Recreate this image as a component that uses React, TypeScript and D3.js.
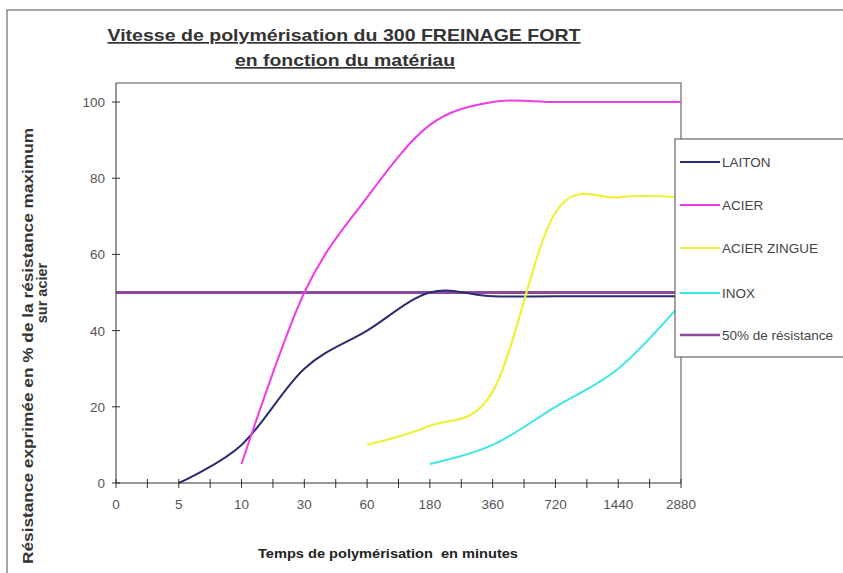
import { useMemo } from 'react';
import * as d3 from 'd3';

// catégories de l'axe X (minutes)
const categories = ['0', '5', '10', '30', '60', '180', '360', '720', '1440', '2880'];
const yTicks = [0, 20, 40, 60, 80, 100];

// valeurs (null = pas de point)
const laiton = [null, 0, 10, 30, 40, 50, 49, 49, 49, 49];
const acier = [null, null, 5, 50, 75, 94, 100, 100, 100, 100];
const acierZingue = [null, null, null, null, 10, 15, 24, 71, 75, 75];
const inox = [null, null, null, null, null, 5, 10, 20, 30, 47];
const seuil = [50, 50, 50, 50, 50, 50, 50, 50, 50, 50];

const seriesNames = ['LAITON', 'ACIER', 'ACIER ZINGUE', 'INOX', '50% de résistance'];
const seriesColors = ['#2b2b70', '#f03ce6', '#eef03a', '#3ee6e6', '#8c4a9c'];
const seriesWidths = [2, 2, 2.2, 2, 3];

const FONT = 'Arial, "Liberation Sans", sans-serif';

export default function App() {
  const W = 843;
  const H = 573;
  const plot = { left: 116, right: 681, top: 83, bottom: 483 };

  const x = useMemo(() => d3.scalePoint<string>().domain(categories).range([plot.left, plot.right]), []);
  const y = useMemo(() => d3.scaleLinear().domain([0, 105]).range([plot.bottom, plot.top]), []);

  const allSeries = [laiton, acier, acierZingue, inox, seuil];
  // le seuil de 50% est dessiné en premier, les courbes par-dessus
  const drawOrder = [4, 0, 1, 2, 3];

  const line = d3
    .line<number | null>()
    .defined((d) => d !== null)
    .x((_, i) => x(categories[i]) as number)
    .y((d) => y(d as number))
    .curve(d3.curveCatmullRom.alpha(0));

  const step = x.step();
  const minorTicks = categories.slice(0, -1).map((c) => (x(c) as number) + step / 2);

  const legendY = [162, 205, 248, 293, 335];

  return (
    <svg width={W} height={H} style={{ position: 'absolute', left: 0, top: 0, background: '#fff' }}>
      {/* cadre du graphique */}
      <rect x={7} y={10} width={W} height={H} fill="#fff" stroke="#888" strokeWidth={1.5} />

      {/* titre */}
      <g fontFamily={FONT} fontWeight="bold" fill="#333" textAnchor="middle" textDecoration="underline">
        <text x={344} y={41} fontSize={17} textLength={473} lengthAdjust="spacingAndGlyphs">
          Vitesse de polymérisation du 300 FREINAGE FORT
        </text>
        <text x={345} y={66} fontSize={17} textLength={220} lengthAdjust="spacingAndGlyphs">
          en fonction du matériau
        </text>
      </g>

      {/* zone de tracé */}
      <path
        d={`M${plot.left},${plot.top}H${plot.right}V${plot.bottom}`}
        fill="none"
        stroke="#888"
        strokeWidth={1.5}
      />

      {/* courbes */}
      {drawOrder.map((i) => (
        <path
          key={seriesNames[i]}
          d={line(allSeries[i]) || ''}
          fill="none"
          stroke={seriesColors[i]}
          strokeWidth={seriesWidths[i]}
          strokeLinejoin="round"
        />
      ))}

      {/* axe Y */}
      <g stroke="#333" strokeWidth={1}>
        <line x1={plot.left} x2={plot.left} y1={plot.top} y2={plot.bottom} />
        {yTicks.map((t) => (
          <line key={t} x1={plot.left - 4} x2={plot.left + 4} y1={y(t)} y2={y(t)} />
        ))}
      </g>
      <g fontFamily={FONT} fontSize={13.5} fill="#555" textAnchor="end">
        {yTicks.map((t) => (
          <text key={t} x={105} y={y(t) + 5}>
            {t}
          </text>
        ))}
      </g>

      {/* axe X */}
      <g stroke="#333" strokeWidth={1}>
        <line x1={plot.left} x2={plot.right} y1={plot.bottom} y2={plot.bottom} />
        {categories.map((c) => (
          <line key={c} x1={x(c)} x2={x(c)} y1={plot.bottom - 4} y2={plot.bottom + 5} />
        ))}
        {minorTicks.map((m) => (
          <line key={m} x1={m} x2={m} y1={plot.bottom - 4} y2={plot.bottom + 5} />
        ))}
      </g>
      <g fontFamily={FONT} fontSize={13.5} fill="#555" textAnchor="middle">
        {categories.map((c) => (
          <text key={c} x={x(c)} y={509}>
            {c}
          </text>
        ))}
      </g>

      {/* titres des axes */}
      <text
        x={388}
        y={558}
        fontFamily={FONT}
        fontSize={13}
        fontWeight="bold"
        fill="#222"
        textAnchor="middle"
        textLength={260}
        lengthAdjust="spacingAndGlyphs"
        style={{ whiteSpace: 'pre' }}
      >
        Temps de polymérisation  en minutes
      </text>
      <g fontFamily={FONT} fontSize={14.5} fontWeight="bold" fill="#333" textAnchor="middle">
        <text transform="translate(33,346) rotate(-90)" textLength={436} lengthAdjust="spacingAndGlyphs">
          Résistance exprimée en % de la résistance maximum
        </text>
        <text transform="translate(47,293) rotate(-90)">sur acier</text>
      </g>

      {/* légende */}
      <rect x={675} y={139} width={200} height={218} fill="#fff" stroke="#666" strokeWidth={1.2} />
      {seriesNames.map((name, i) => (
        <g key={name}>
          <line
            x1={680}
            x2={720}
            y1={legendY[i]}
            y2={legendY[i]}
            stroke={seriesColors[i]}
            strokeWidth={i === 4 ? 2.5 : 2}
          />
          <text x={722} y={legendY[i] + 5} fontFamily={FONT} fontSize={13.5} fill="#444">
            {name}
          </text>
        </g>
      ))}
    </svg>
  );
}
